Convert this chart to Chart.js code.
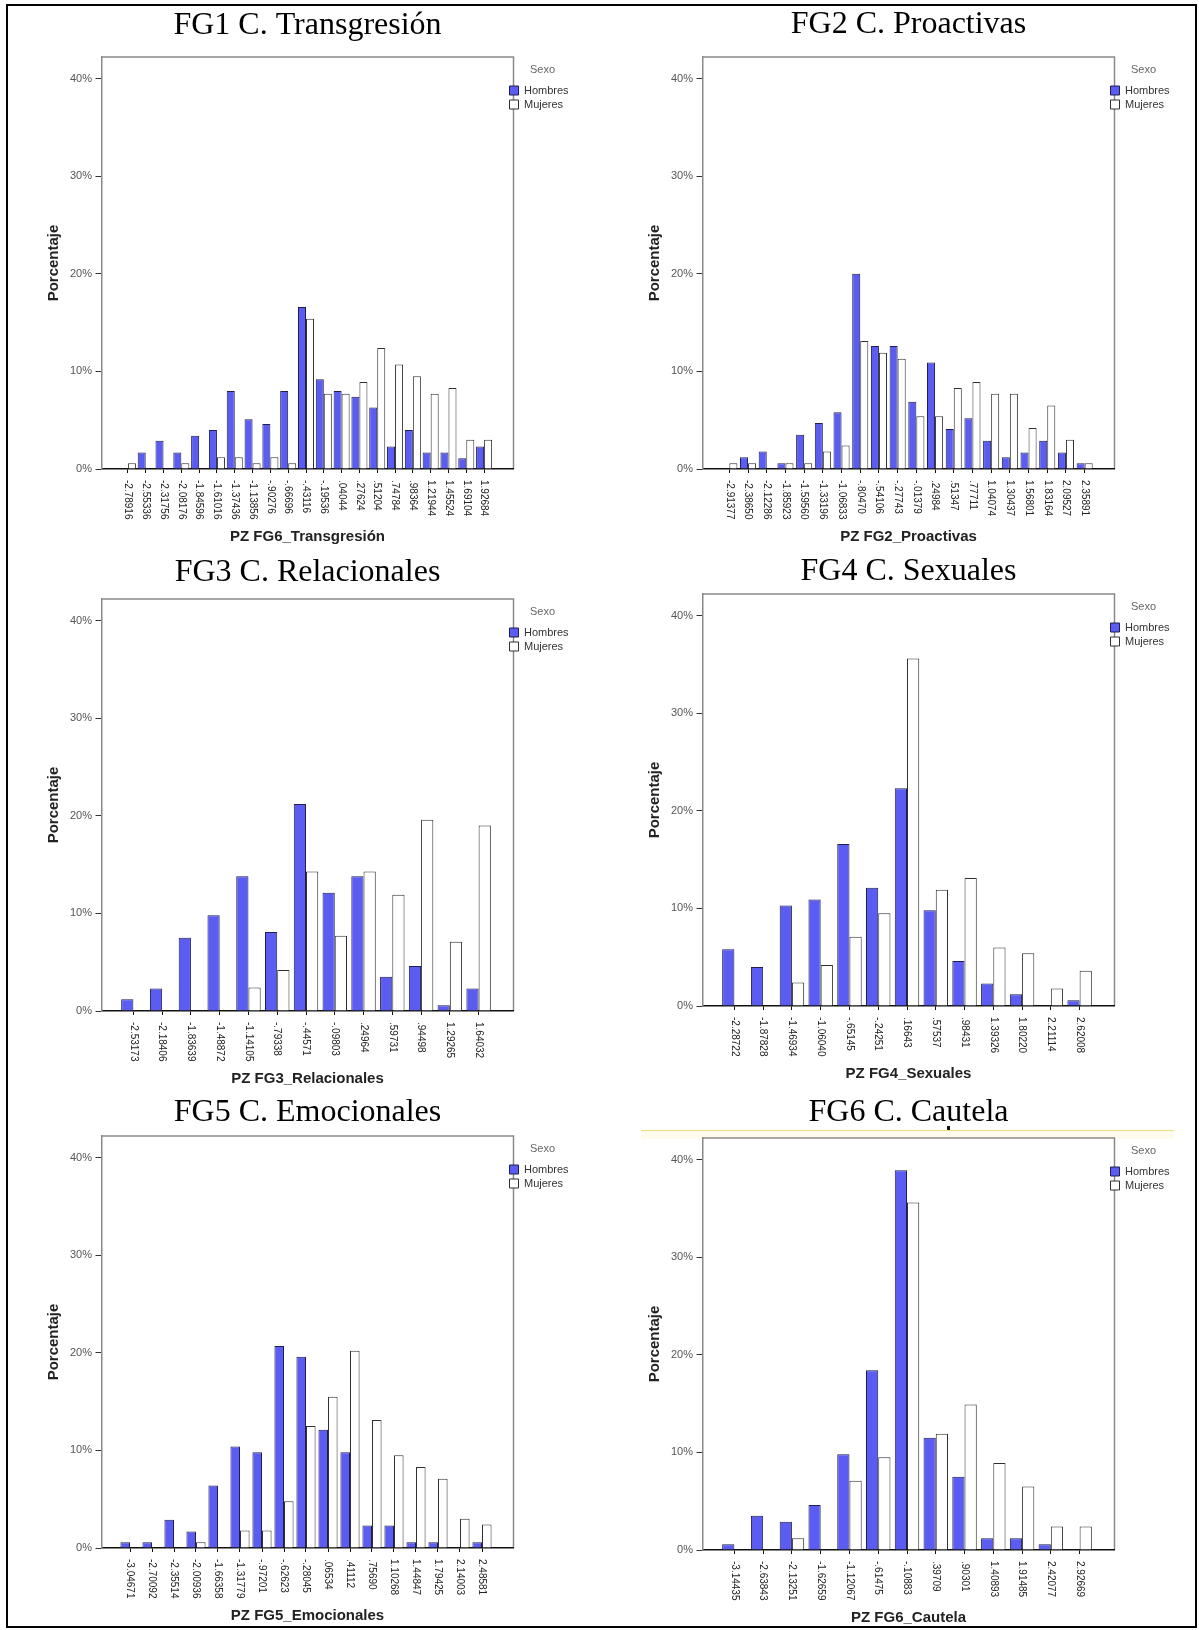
<!DOCTYPE html>
<html><head><meta charset="utf-8">
<script src="https://cdn.jsdelivr.net/npm/chart.js@4.4.1/dist/chart.umd.min.js"></script>
<style>
html,body{margin:0;padding:0;background:#fff;}
body{width:1199px;height:1630px;position:relative;overflow:hidden;}
#outer{position:absolute;left:6px;top:4px;width:1191px;height:1624px;border:2px solid #000;box-sizing:border-box;}
#yl{position:absolute;left:641px;top:1130px;width:533px;height:1px;background:#efdc7c;}
#yb{position:absolute;left:641px;top:1131px;width:533px;height:8px;background:#fffbec;}
#dot{position:absolute;left:947px;top:1126px;width:3px;height:4px;background:#111;}
canvas{position:absolute;}
</style></head><body>
<div id="outer"></div>
<div id="yb"></div>
<div id="yl"></div>
<div id="dot"></div>
<canvas id="c1" width="600" height="546" style="left:0px;top:0px"></canvas>
<canvas id="c2" width="598" height="546" style="left:601px;top:0px"></canvas>
<canvas id="c3" width="600" height="546" style="left:0px;top:542px"></canvas>
<canvas id="c4" width="598" height="546" style="left:601px;top:537px"></canvas>
<canvas id="c5" width="600" height="546" style="left:0px;top:1079px"></canvas>
<canvas id="c6" width="598" height="546" style="left:601px;top:1081px"></canvas>
<script>
// ---------- DATA ----------
const fg1Labels = ["-2.78916","-2.55336","-2.31756","-2.08176","-1.84596","-1.61016","-1.37436","-1.13856","-.90276","-.66696","-.43116","-.19536",".04044",".27624",".51204",".74784",".98364","1.21944","1.45524","1.69104","1.92684"];
const fg1Hombres = [0, 1.7, 2.9, 1.7, 3.4, 4.0, 8.0, 5.1, 4.6, 8.0, 16.6, 9.2, 8.0, 7.4, 6.3, 2.3, 4.0, 1.7, 1.7, 1.1, 2.3];
const fg1Mujeres = [0.6, 0, 0, 0.6, 0, 1.2, 1.2, 0.6, 1.2, 0.6, 15.4, 7.7, 7.7, 8.9, 12.4, 10.7, 9.5, 7.7, 8.3, 3.0, 3.0];

const fg2Labels = ["-2.91377","-2.38650","-2.12286","-1.85923","-1.59560","-1.33196","-1.06833","-.80470","-.54106","-.27743","-.01379",".24984",".51347",".77711","1.04074","1.30437","1.56801","1.83164","2.09527","2.35891"];
const fg2Hombres = [0, 1.2, 1.8, 0.6, 3.5, 4.7, 5.8, 20.0, 12.6, 12.6, 6.9, 10.9, 4.1, 5.2, 2.9, 1.2, 1.7, 2.9, 1.7, 0.6];
const fg2Mujeres = [0.6, 0.6, 0, 0.6, 0.6, 1.8, 2.4, 13.1, 11.9, 11.3, 5.4, 5.4, 8.3, 8.9, 7.7, 7.7, 4.2, 6.5, 3.0, 0.6];

const fg3Labels = ["-2.53173","-2.18406","-1.83639","-1.48872","-1.14105","-.79338","-.44571","-.09803",".24964",".59731",".94498","1.29265","1.64032"];
const fg3Hombres = [1.2, 2.3, 7.5, 9.8, 13.8, 8.1, 21.2, 12.1, 13.8, 3.5, 4.6, 0.6, 2.3];
const fg3Mujeres = [0, 0, 0, 0, 2.4, 4.2, 14.3, 7.7, 14.3, 11.9, 19.6, 7.1, 19.0];

const fg4Labels = ["-2.28722","-1.87828","-1.46934","-1.06040","-.65145","-.24251",".16643",".57537",".98431","1.39326","1.80220","2.21114","2.62008"];
const fg4Hombres = [5.8, 4.0, 10.3, 10.9, 16.6, 12.1, 22.3, 9.8, 4.6, 2.3, 1.2, 0, 0.6];
const fg4Mujeres = [0, 0, 2.4, 4.2, 7.1, 9.5, 35.6, 11.9, 13.1, 6.0, 5.4, 1.8, 3.6];

const fg5Labels = ["-3.04671","-2.70092","-2.35514","-2.00936","-1.66358","-1.31779","-.97201","-.62623","-.28045",".06534",".41112",".75690","1.10268","1.44847","1.79425","2.14003","2.48581"];
const fg5Hombres = [0.6, 0.6, 2.9, 1.7, 6.4, 10.4, 9.8, 20.7, 19.6, 12.1, 9.8, 2.3, 2.3, 0.6, 0.6, 0, 0.6];
const fg5Mujeres = [0, 0, 0, 0.6, 0, 1.8, 1.8, 4.8, 12.5, 15.5, 20.2, 13.1, 9.5, 8.3, 7.1, 3.0, 2.4];

const fg6Labels = ["-3.14435","-2.63843","-2.13251","-1.62659","-1.12067","-.61475","-.10883",".39709",".90301","1.40893","1.91485","2.42077","2.92669"];
const fg6Hombres = [0.6, 3.5, 2.9, 4.6, 9.8, 18.4, 38.9, 11.5, 7.5, 1.2, 1.2, 0.6, 0];
const fg6Mujeres = [0, 0, 1.2, 0, 7.1, 9.5, 35.6, 11.9, 14.9, 8.9, 6.5, 2.4, 2.4];

const yTickValues = [0, 10, 20, 30, 40];
const seriesNames = ["Hombres", "Mujeres"];
const legendTitle = "Sexo";
const yTitle = "Porcentaje";

// ---------- PANELS ----------
const panels = [
  {id:"c1", title:"FG1 C. Transgresión", xTitle:"PZ FG6_Transgresión", labels:fg1Labels, h:fg1Hombres, m:fg1Mujeres, tp:[10,15], cat:0.9, padR:86.5},
  {id:"c2", title:"FG2 C. Proactivas", xTitle:"PZ FG2_Proactivas", labels:fg2Labels, h:fg2Hombres, m:fg2Mujeres, tp:[9,16], cat:0.86, padR:84.5},
  {id:"c3", title:"FG3 C. Relacionales", xTitle:"PZ FG3_Relacionales", labels:fg3Labels, h:fg3Hombres, m:fg3Mujeres, tp:[15,10], cat:0.85, padR:86.5},
  {id:"c4", title:"FG4 C. Sexuales", xTitle:"PZ FG4_Sexuales", labels:fg4Labels, h:fg4Hombres, m:fg4Mujeres, tp:[19,6], cat:0.85, padR:84.5},
  {id:"c5", title:"FG5 C. Emocionales", xTitle:"PZ FG5_Emocionales", labels:fg5Labels, h:fg5Hombres, m:fg5Mujeres, tp:[18,7], cat:0.87, padR:86.5},
  {id:"c6", title:"FG6 C. Cautela", xTitle:"PZ FG6_Cautela", labels:fg6Labels, h:fg6Hombres, m:fg6Mujeres, tp:[15.5,9.5], cat:0.85, padR:84.5}
];

const SANS = "'Liberation Sans', Arial, sans-serif";
const SERIF = "'Liberation Serif', 'Times New Roman', serif";
Chart.defaults.font.family = SANS;

const framePlugin = {
  id: "spssFrame",
  beforeDraw(chart) {
    const {ctx, chartArea: ca} = chart;
    ctx.save();
    ctx.strokeStyle = "#8a8a8a";
    ctx.lineWidth = 1.5;
    ctx.beginPath();
    ctx.moveTo(ca.left, ca.top);
    ctx.lineTo(ca.right, ca.top);
    ctx.lineTo(ca.right, ca.bottom);
    ctx.stroke();
    ctx.restore();
  }
};
const legendPlace = {
  id: "legendPlace",
  afterLayout(chart) {
    const lg = chart.legend;
    if (!lg) return;
    const ca = chart.chartArea;
    lg.left = ca.right - 7;
    lg.right = lg.left + lg.width;
    lg.top = ca.top + 1;
    lg.bottom = lg.top + 140;
  }
};

function makeChart(p) {
  const N = p.labels.length;
  const W = 412, padL = 17.5, padR = 20.5;
  const catW = (W - padL - padR) / N;
  new Chart(document.getElementById(p.id), {
    type: "bar",
    data: {
      datasets: [
        {label: seriesNames[0], data: p.h.map((v, i) => ({x: i, y: v})), backgroundColor: "#5a5cf2", borderColor: "#1e1e50", borderWidth: 1},
        {label: seriesNames[1], data: p.m.map((v, i) => ({x: i, y: v})), backgroundColor: "#ffffff", borderColor: "#303030", borderWidth: 1}
      ]
    },
    options: {
      responsive: false,
      animation: false,
      events: [],
      categoryPercentage: p.cat,
      barPercentage: 1,
      layout: {padding: {left: 44.6, right: p.padR, top: 0, bottom: 0}},
      scales: {
        x: {
          type: "linear", offset: false,
          min: -0.5 - padL / catW, max: N - 0.5 + padR / catW,
          afterBuildTicks: s => { s.ticks = p.labels.map((_, i) => ({value: i})); },
          afterFit: s => { s.height = 77; },
          afterUpdate: s => { s._getXAxisLabelAlignment = () => "left"; s._labelItems = null; },
          ticks: {autoSkip: false, minRotation: -90, maxRotation: -90, padding: 7, color: "#222",
                  font: {size: 10}, callback: (v, i) => p.labels[i]},
          grid: {display: true, drawOnChartArea: false, drawTicks: true, tickLength: 4, tickColor: "#111", offset: false},
          border: {display: true, color: "#111", width: 1.5},
          title: {display: true, text: p.xTitle, color: "#222", font: {size: 15, weight: "bold"}, padding: 0}
        },
        y: {
          min: 0, max: 42.2,
          afterBuildTicks: s => { s.ticks = yTickValues.map(v => ({value: v})); },
          afterFit: s => { s.width = 56.9; },
          ticks: {padding: 3.5, color: "#555", font: {size: 11}, callback: v => v + "%"},
          grid: {drawOnChartArea: false, drawTicks: true, tickLength: 6, tickColor: "#333"},
          border: {display: true, color: "#8a8a8a", width: 1.5},
          title: {display: true, text: yTitle, color: "#222", font: {size: 15, weight: "bold"}, padding: 0}
        }
      },
      plugins: {
        tooltip: {enabled: false},
        title: {display: true, text: p.title, fullSize: false, color: "#000",
                font: {family: SERIF, size: 32, weight: "normal", lineHeight: 1}, padding: {top: p.tp[0], bottom: p.tp[1]}},
        legend: {
          position: "chartArea", align: "start",
          title: {display: true, text: legendTitle, color: "#666", position: "center",
                  font: {size: 11}, padding: {top: 6.3, bottom: 4.5}},
          labels: {boxWidth: 9, boxHeight: 9, padding: 3, color: "#333", font: {size: 11}}
        }
      }
    },
    plugins: [framePlugin, legendPlace]
  });
}
panels.forEach(makeChart);
</script>
</body></html>
